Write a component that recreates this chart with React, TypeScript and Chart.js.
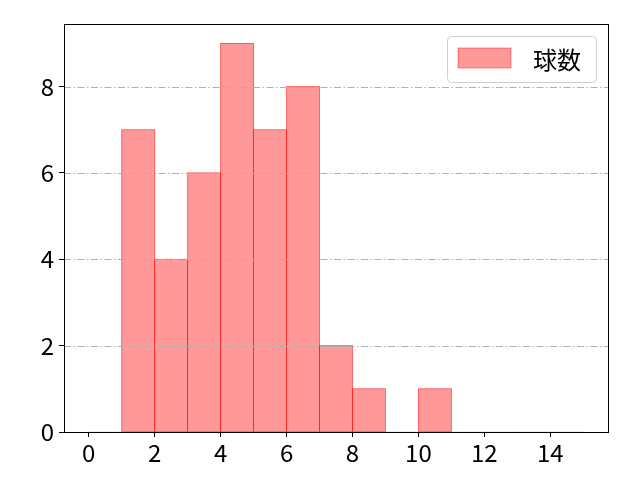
import { useEffect, useRef } from "react";
import { Chart, registerables, Plugin } from "chart.js";

Chart.register(...registerables);

// histogram bins (left edges) and counts
const binEdges = [0, 1, 2, 3, 4, 5, 6, 7, 8, 9, 10, 11, 12, 13, 14];
const binCounts = [0, 7, 4, 6, 9, 7, 8, 2, 1, 0, 1, 0, 0, 0, 0];
const seriesLabel = "球数";

const xTicks = [0, 2, 4, 6, 8, 10, 12, 14];
const yTicks = [0, 2, 4, 6, 8];

const FONT = "'Noto Sans CJK JP', 'Noto Sans', sans-serif";
const FILL = "rgba(255, 0, 0, 0.4)";
const EDGE = "rgba(255, 0, 0, 0.45)";

// bar outlines centred on the bar edges (matplotlib style)
const edgePlugin: Plugin = {
  id: "barEdges",
  afterDatasetsDraw(chart) {
    const { ctx } = chart;
    const meta = chart.getDatasetMeta(0);
    ctx.save();
    ctx.strokeStyle = EDGE;
    ctx.lineWidth = 0.9;
    meta.data.forEach((el) => {
      const { x, y, width, base } = el.getProps(["x", "y", "width", "base"], true) as any;
      if (Math.abs(base - y) < 0.5) return;
      ctx.strokeRect(x - width / 2, y, width, base - y);
    });
    ctx.restore();
  },
};

// dash-dot horizontal grid, drawn above the bars
const gridPlugin: Plugin = {
  id: "topGrid",
  afterDatasetsDraw(chart) {
    const { ctx, chartArea } = chart;
    const yScale = chart.scales.y;
    ctx.save();
    ctx.strokeStyle = "#b0b0b0";
    ctx.lineWidth = 1;
    ctx.setLineDash([7, 2.5, 1.5, 2.5]);
    yTicks.forEach((v) => {
      const py = Math.round(yScale.getPixelForValue(v)) + 0.5;
      ctx.beginPath();
      ctx.moveTo(chartArea.left, py);
      ctx.lineTo(chartArea.right, py);
      ctx.stroke();
    });
    ctx.restore();
  },
};

// all four spines, drawn over the bars like matplotlib
const framePlugin: Plugin = {
  id: "frame",
  afterDatasetsDraw(chart) {
    const { ctx, chartArea } = chart;
    ctx.save();
    ctx.strokeStyle = "#000";
    ctx.lineWidth = 1;
    ctx.strokeRect(
      Math.round(chartArea.left) + 0.5,
      Math.round(chartArea.top) + 0.5,
      Math.round(chartArea.right - chartArea.left),
      Math.round(chartArea.bottom - chartArea.top)
    );
    ctx.restore();
  },
};

// legend box in the upper right corner
const legendPlugin: Plugin = {
  id: "boxLegend",
  afterDraw(chart) {
    const { ctx, chartArea } = chart;
    const w = 149;
    const h = 46;
    const x = chartArea.right - 12 - w;
    const y = chartArea.top + 12;
    ctx.save();
    ctx.beginPath();
    ctx.roundRect(x + 0.5, y + 0.5, w, h, 4);
    ctx.fillStyle = "rgba(255,255,255,0.8)";
    ctx.fill();
    ctx.strokeStyle = "#d0d0d0";
    ctx.lineWidth = 1;
    ctx.stroke();

    ctx.fillStyle = FILL;
    ctx.fillRect(x + 11, y + 12, 53, 20);
    ctx.strokeStyle = EDGE;
    ctx.lineWidth = 0.9;
    ctx.strokeRect(x + 11, y + 12, 53, 20);

    ctx.fillStyle = "#000";
    ctx.font = `24px ${FONT}`;
    ctx.textBaseline = "middle";
    ctx.textAlign = "left";
    ctx.fillText(seriesLabel, x + 86, y + h / 2 + 1);
    ctx.restore();
  },
};

export default function App() {
  const chartRef = useRef<HTMLCanvasElement>(null);

  useEffect(() => {
    document.body.style.margin = "0";
    if (!chartRef.current) return;
    const ctx = chartRef.current.getContext("2d");
    if (!ctx) return;

    const chart = new Chart(ctx, {
      type: "bar",
      data: {
        datasets: [
          {
            label: seriesLabel,
            data: binEdges.map((e, i) => ({ x: e + 0.5, y: binCounts[i] })),
            backgroundColor: FILL,
            borderWidth: 0,
            barPercentage: 1,
            categoryPercentage: 1,
          },
        ],
      },
      options: {
        responsive: false,
        devicePixelRatio: 1,
        animation: false,
        layout: { padding: { top: 24, right: 32, left: 0, bottom: 0 } },
        scales: {
          x: {
            type: "linear",
            offset: false,
            min: -0.75,
            max: 15.75,
            afterBuildTicks: (scale) => {
              scale.ticks = xTicks.map((v) => ({ value: v }));
            },
            afterFit: (scale) => {
              scale.height = 48;
            },
            grid: {
              offset: false,
              drawOnChartArea: false,
              tickColor: "#000",
              tickLength: 5,
              tickWidth: 1,
            },
            border: { display: false },
            ticks: {
              color: "#000",
              font: { family: FONT, size: 24 },
              padding: 1,
              maxRotation: 0,
              autoSkip: false,
            },
          },
          y: {
            min: 0,
            max: 9.45,
            afterBuildTicks: (scale) => {
              scale.ticks = yTicks.map((v) => ({ value: v }));
            },
            afterFit: (scale) => {
              scale.width = 64;
            },
            grid: {
              drawOnChartArea: false,
              tickColor: "#000",
              tickLength: 5,
              tickWidth: 1,
            },
            border: { display: false },
            ticks: {
              color: "#000",
              font: { family: FONT, size: 24 },
              padding: 5,
              autoSkip: false,
            },
          },
        },
        plugins: {
          legend: { display: false },
          tooltip: { enabled: false },
        },
      },
      plugins: [edgePlugin, gridPlugin, framePlugin, legendPlugin],
    });

    return () => {
      chart.destroy();
    };
  }, []);

  return (
    <div style={{ width: 640, height: 480 }}>
      <canvas ref={chartRef} width={640} height={480} />
    </div>
  );
}
